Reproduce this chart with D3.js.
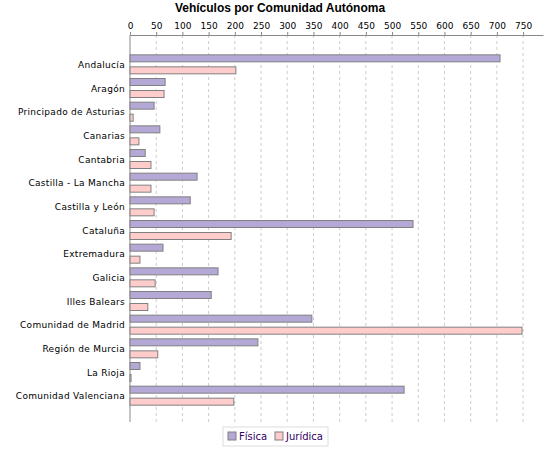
<!DOCTYPE html>
<html><head><meta charset="utf-8">
<script src="https://cdn.jsdelivr.net/npm/d3@7"></script>
<style>body{margin:0;background:#fff}</style></head>
<body><svg id="c" width="550" height="450"></svg>
<script>
const categories=["Andalucía","Aragón","Principado de Asturias","Canarias","Cantabria","Castilla - La Mancha","Castilla y León","Cataluña","Extremadura","Galicia","Illes Balears","Comunidad de Madrid","Región de Murcia","La Rioja","Comunidad Valenciana"];
const fisica=[706,67,46,57,29,128,115,540,63,168,155,347,244,19,523];
const juridica=[202,65,6,17,40,40,46,193,19,48,34,748,53,2,198];
const ticks=d3.range(0,751,50);
const svg=d3.select("#c");
const L=130,R=543,T=35,B=422;
const x=d3.scaleLinear().domain([0,788]).range([L,R]);
const y=d3.scaleBand().domain(categories).range([53,408]);
svg.append("text").attr("x",280).attr("y",12).attr("text-anchor","middle").attr("font-family","Liberation Sans, Arial").attr("font-weight","bold").attr("font-size",12).text("Vehículos por Comunidad Autónoma");
svg.append("g").selectAll("line").data(ticks.slice(1)).join("line").attr("x1",d=>x(d)).attr("x2",d=>x(d)).attr("y1",T).attr("y2",B).attr("stroke","#ccc").attr("stroke-dasharray","3,3");
const ax=svg.append("g").attr("transform",`translate(0,${T})`).call(d3.axisTop(x).tickValues(ticks).tickSize(3).tickSizeOuter(0));
ax.select(".domain").attr("stroke","#888");ax.selectAll("line").attr("stroke","#888");
ax.selectAll("text").attr("font-family","DejaVu Sans").attr("font-size",9).attr("fill","#000");
svg.append("line").attr("x1",L).attr("x2",L).attr("y1",T).attr("y2",B).attr("stroke","#888");
const g=svg.append("g");
g.selectAll(".f").data(categories).join("rect").attr("x",L).attr("y",d=>y(d)+y.bandwidth()/2-10).attr("height",7).attr("width",(d,i)=>x(fisica[i])-L).attr("fill","#b4a9d6").attr("stroke","#808080");
g.selectAll(".j").data(categories).join("rect").attr("x",L).attr("y",d=>y(d)+y.bandwidth()/2+2).attr("height",7).attr("width",(d,i)=>x(juridica[i])-L).attr("fill","#ffcccc").attr("stroke","#808080");
svg.append("g").selectAll("text").data(categories).join("text").attr("x",125).attr("y",d=>y(d)+y.bandwidth()/2+3).attr("text-anchor","end").attr("font-family","DejaVu Sans").attr("font-size",9).attr("letter-spacing","0.3").text(d=>d);
const lg=svg.append("g");
lg.append("rect").attr("x",223).attr("y",427).attr("width",105).attr("height",19).attr("fill","#fff").attr("stroke","#ddd");
[["Física","#b4a9d6",228],["Jurídica","#ffcccc",275]].forEach(([t,c,xx])=>{
lg.append("rect").attr("x",xx).attr("y",432).attr("width",8).attr("height",8).attr("fill",c).attr("stroke","#808080");
lg.append("text").attr("x",xx+11).attr("y",440).attr("font-family","DejaVu Sans").attr("font-size",10).attr("fill","#330066").text(t);});
</script></body></html>
